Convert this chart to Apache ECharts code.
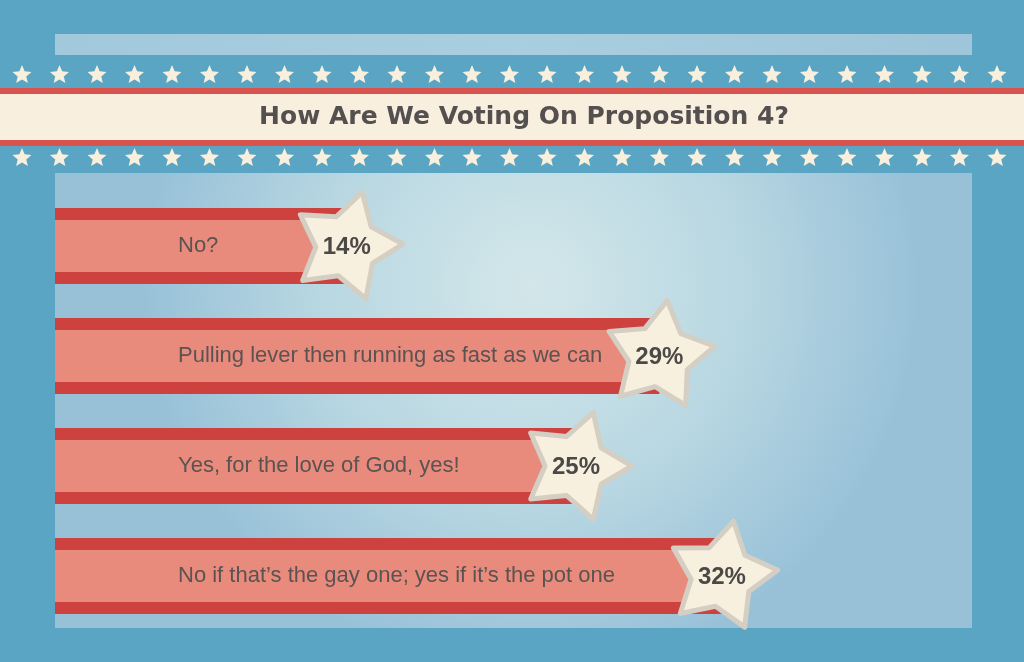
<!DOCTYPE html>
<html>
<head>
<meta charset="utf-8">
<script src="https://cdn.jsdelivr.net/npm/echarts@6/dist/echarts.min.js"></script>
<style>
  html, body { margin: 0; padding: 0; background: #5aa4c4; }
  #chart { width: 1024px; height: 662px; }
</style>
</head>
<body>
<div id="chart"></div>
<script>
// ---- data ----
const titleText = 'How Are We Voting On Proposition 4?';
const categories = [
  'No?',
  'Pulling lever then running as fast as we can',
  'Yes, for the love of God, yes!',
  'No if that\u2019s the gay one; yes if it\u2019s the pot one'
];
const values = [14, 29, 25, 32];

// ---- style ----
const starRotations = [16, 8, 18, 12];
const COL_BG = '#5aa4c4';
const COL_RED = '#cd413f';
const COL_SALMON = '#e98b7c';
const COL_CREAM = '#f8f0df';
const COL_STAR_EDGE = '#d4cec3';
const COL_TEXT = '#5b5351';

function starPoints(cx, cy, R, r, rot) {
  const pts = [];
  for (let i = 0; i < 10; i++) {
    const a = (rot + i * 36) * Math.PI / 180;
    const rad = i % 2 ? r : R;
    pts.push([cx + rad * Math.sin(a), cy - rad * Math.cos(a)]);
  }
  return pts;
}

const chart = echarts.init(document.getElementById('chart'));

const deco = [];
deco.push({ type: 'rect', shape: { x: 55, y: 34, width: 917, height: 21 },
  style: { fill: { type: 'linear', x: 0, y: 0, x2: 1, y2: 0,
    colorStops: [{ offset: 0, color: '#a2c8dc' }, { offset: 0.5, color: '#a9cedf' }, { offset: 1, color: '#9fc5da' }] } } });
deco.push({ type: 'rect', shape: { x: 55, y: 173, width: 917, height: 455 },
  style: { fill: { type: 'radial', x: 0.52, y: 0.25, r: 0.85,
    colorStops: [{ offset: 0, color: '#d3e7ea' }, { offset: 0.55, color: '#b8d7e2' }, { offset: 1, color: '#98c1d8' }] } } });
deco.push({ type: 'rect', shape: { x: 0, y: 88, width: 1024, height: 58 }, style: { fill: '#d9534e' } });
deco.push({ type: 'rect', shape: { x: 0, y: 94, width: 1024, height: 46 }, style: { fill: '#f8efdf' } });
for (let i = 0; i < 27; i++) {
  const x = 22 + 37.5 * i;
  [75, 158].forEach(function (y) {
    deco.push({ type: 'polygon', shape: { points: starPoints(x, y, 10, 4.5, 0) }, style: { fill: '#f8efdc' } });
  });
}
deco.push({ type: 'text', x: 524, y: 117, style: { text: titleText, fill: '#545050',
  font: 'bold 25px "DejaVu Sans", sans-serif', textAlign: 'center', textVerticalAlign: 'middle' } });

chart.setOption({
  backgroundColor: COL_BG,
  animation: false,
  graphic: { elements: deco },
  grid: { left: 55, right: 52, top: 191, bottom: 31 },
  xAxis: { type: 'value', min: 0, max: 44, show: false },
  yAxis: { type: 'category', data: categories, inverse: true, show: false },
  series: [{
    type: 'custom',
    data: values.map(function (v, i) { return [v, i]; }),
    encode: { x: 0, y: 1 },
    renderItem: function (params, api) {
      const v = api.value(0);
      const idx = api.value(1);
      const s = api.coord([0, idx]);
      const e = api.coord([v, idx]);
      const H = 76, inner = 52;
      const w = e[0] - s[0];
      return {
        type: 'group',
        children: [
          { type: 'rect', shape: { x: s[0], y: s[1] - H / 2, width: w, height: H }, style: { fill: COL_RED } },
          { type: 'rect', shape: { x: s[0], y: s[1] - inner / 2, width: w, height: inner }, style: { fill: COL_SALMON } },
          { type: 'text', x: s[0] + 123, y: s[1], style: { text: categories[idx], fill: COL_TEXT,
              font: '22px "Liberation Sans", Arial, sans-serif', textVerticalAlign: 'middle' } },
          { type: 'polygon', shape: { points: starPoints(e[0], e[1], 56, 31, starRotations[idx]) },
            style: { fill: COL_CREAM, stroke: COL_STAR_EDGE, lineWidth: 5, lineJoin: 'round' } },
          { type: 'text', x: e[0], y: e[1] + 1, style: { text: v + '%', fill: '#4b4948',
              font: 'bold 24px "Liberation Sans", Arial, sans-serif', textAlign: 'center', textVerticalAlign: 'middle' } }
        ]
      };
    }
  }]
});
</script>
</body>
</html>
